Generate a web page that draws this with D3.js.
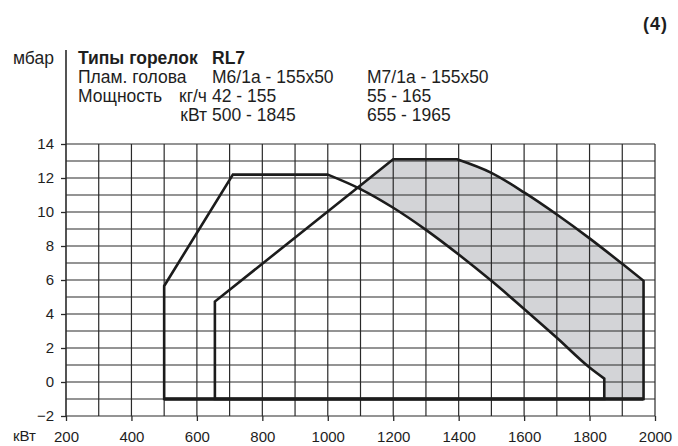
<!DOCTYPE html>
<html>
<head>
<meta charset="utf-8">
<script src="https://cdn.jsdelivr.net/npm/d3@7"></script>
<style>
  html, body { margin: 0; padding: 0; background: #fff; }
  svg { display: block; }
  text { font-family: "Liberation Sans", Arial, Helvetica, sans-serif; fill: #1e1e1e; }
</style>
</head>
<body>
<svg id="chart" width="678" height="446"></svg>
<script>
// Axis ticks
const xTicks = [200, 400, 600, 800, 1000, 1200, 1400, 1600, 1800, 2000];
const yTicks = [-2, 0, 2, 4, 6, 8, 10, 12, 14];

// Burner head M6/1a — working field (kW, mbar)
const m6StartPower = [500, 500, 710, 1000];
const m6StartPressure = [-1, 5.65, 12.2, 12.2];
const m6CurvePower = [1000, 1100, 1200, 1300, 1400, 1500, 1600, 1700, 1800, 1845];
const m6CurvePressure = [12.2, 11.35, 10.25, 8.95, 7.5, 5.95, 4.3, 2.6, 0.85, 0.2];
const m6EndPower = [1845];
const m6EndPressure = [-1];

// Burner head M7/1a — working field (kW, mbar)
const m7StartPower = [655, 655, 1200, 1395];
const m7StartPressure = [-1, 4.73, 13.1, 13.1];
const m7CurvePower = [1395, 1500, 1600, 1700, 1800, 1900, 1965];
const m7CurvePressure = [13.1, 12.3, 11.15, 9.85, 8.45, 6.95, 5.95];
const m7EndPower = [1965];
const m7EndPressure = [-1];

// Header table
const headerLabels = ["Плам. голова", "Мощность"];
const headerUnits = ["кг/ч", "кВт"];
const m6Info = ["M6/1a - 155x50", "42 - 155", "500 - 1845"];
const m7Info = ["M7/1a - 155x50", "55 - 165", "655 - 1965"];

const svg = d3.select("#chart");
const x = d3.scaleLinear().domain([200, 2000]).range([66, 655]);
const y = d3.scaleLinear().domain([-2, 14]).range([416, 144]);

const zip = (xs, ys) => xs.map((v, i) => [v, ys[i]]);
const straight = d3.line().x(d => x(d[0])).y(d => y(d[1]));
const smooth = d3.line().x(d => x(d[0])).y(d => y(d[1])).curve(d3.curveMonotoneX);

function fieldPath(sp, sv, cp, cv, ep, ev) {
  const a = straight(zip(sp, sv));
  const b = smooth(zip(cp, cv)).replace(/^M/, "L");
  const c = straight(zip(ep, ev)).replace(/^M/, "L");
  return a + b + c + "Z";
}
const m6Path = fieldPath(m6StartPower, m6StartPressure, m6CurvePower, m6CurvePressure, m6EndPower, m6EndPressure);
const m7Path = fieldPath(m7StartPower, m7StartPressure, m7CurvePower, m7CurvePressure, m7EndPower, m7EndPressure);

// Area covered only by M7/1a is shaded; M6/1a area stays white
svg.append("path").attr("d", m7Path).attr("fill", "#d3d4d7");
svg.append("path").attr("d", m6Path).attr("fill", "#fff");

// Grid
const grid = svg.append("g").attr("stroke", "#2a2a2a").attr("stroke-width", 1.2);
d3.range(-2, 14.001, 1).forEach(v => {
  grid.append("line").attr("x1", x(200)).attr("x2", x(2000)).attr("y1", y(v)).attr("y2", y(v));
});
d3.range(300, 2000.001, 100).forEach(v => {
  grid.append("line").attr("x1", x(v)).attr("x2", x(v)).attr("y1", y(14)).attr("y2", y(-2));
});

// Y axis (extends up beside the header)
const yAxis = d3.axisLeft(y).tickValues(yTicks).tickSize(5).tickPadding(7).tickFormat(d3.format("d"));
const gy = svg.append("g").attr("transform", `translate(${x(200)},0)`).call(yAxis);
gy.select(".domain").remove();
gy.selectAll(".tick line").attr("stroke", "#2a2a2a").attr("stroke-width", 1.3);
gy.selectAll(".tick text").attr("font-size", 15).attr("fill", "#1e1e1e")
  .attr("font-family", "Liberation Sans, Arial, sans-serif");
svg.append("line").attr("x1", x(200)).attr("x2", x(200)).attr("y1", 50).attr("y2", y(-2))
  .attr("stroke", "#2a2a2a").attr("stroke-width", 1.6);

// X axis
const xAxis = d3.axisBottom(x).tickValues(xTicks).tickSize(5).tickPadding(10).tickFormat(d3.format("d"));
const gx = svg.append("g").attr("transform", `translate(0,${y(-2)})`).call(xAxis);
gx.select(".domain").remove();
gx.selectAll(".tick line").attr("stroke", "#2a2a2a").attr("stroke-width", 1.3);
gx.selectAll(".tick text").attr("font-size", 15).attr("fill", "#1e1e1e")
  .attr("font-family", "Liberation Sans, Arial, sans-serif");

// Field outlines
svg.append("path").attr("d", m7Path).attr("fill", "none").attr("stroke", "#1c1c1c")
  .attr("stroke-width", 2.6).attr("stroke-linejoin", "miter");
svg.append("path").attr("d", m6Path).attr("fill", "none").attr("stroke", "#1c1c1c")
  .attr("stroke-width", 2.6).attr("stroke-linejoin", "miter");
svg.append("line").attr("x1", x(500)).attr("x2", x(1965)).attr("y1", y(-1)).attr("y2", y(-1))
  .attr("stroke", "#1c1c1c").attr("stroke-width", 3.6);

// Axis units
const hs = 17.5;
svg.append("text").attr("x", 13).attr("y", 64).attr("font-size", hs).text("мбар");
svg.append("text").attr("x", 13).attr("y", 441).attr("font-size", 15).text("кВт");

// Header
const colA = 78, colB = 212, colC = 367, unitEnd = 207;
const rowY = [64, 83, 102, 121];
svg.append("text").attr("x", colA).attr("y", rowY[0]).attr("font-size", hs).attr("font-weight", "bold").text("Типы горелок");
svg.append("text").attr("x", colB).attr("y", rowY[0]).attr("font-size", hs).attr("font-weight", "bold").text("RL7");
headerLabels.forEach((t, i) => {
  svg.append("text").attr("x", colA).attr("y", rowY[i + 1]).attr("font-size", hs).text(t);
});
headerUnits.forEach((t, i) => {
  svg.append("text").attr("x", unitEnd).attr("y", rowY[i + 2]).attr("font-size", hs)
    .attr("text-anchor", "end").text(t);
});
m6Info.forEach((t, i) => {
  svg.append("text").attr("x", colB).attr("y", rowY[i + 1]).attr("font-size", hs).text(t);
});
m7Info.forEach((t, i) => {
  svg.append("text").attr("x", colC).attr("y", rowY[i + 1]).attr("font-size", hs).text(t);
});

// Figure number
svg.append("text").attr("x", 668).attr("y", 30).attr("font-size", 18).attr("font-weight", "bold")
  .attr("text-anchor", "end").attr("letter-spacing", 1).text("(4)");
</script>
</body>
</html>
